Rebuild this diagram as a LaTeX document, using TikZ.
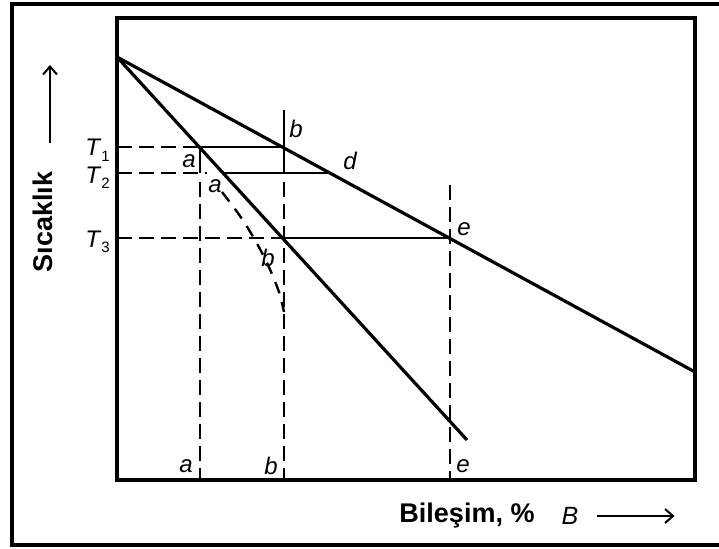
\documentclass[tikz,border=0pt]{standalone}
\usepackage{fontspec}
\setmainfont{Liberation Sans}
\usepackage{tikz}
\usetikzlibrary{arrows.meta}

\newcommand{\tsub}[1]{\textit{T}\raisebox{-0.45ex}{\fontsize{15}{16}\selectfont #1}}

\begin{document}
\begin{tikzpicture}[x=1pt,y=-1pt,>={Straight Barb[length=8pt,width=14pt]},
  frame/.style={line width=3.2pt},
  phase/.style={line width=3.2pt},
  tie/.style={line width=2.4pt},
  guide/.style={line width=2.4pt,dash pattern=on 15pt off 7pt},
  lbl/.style={font=\fontsize{24}{26}\selectfont\itshape,inner sep=1pt},
  tlbl/.style={font=\fontsize{24}{26}\selectfont,inner sep=0pt,anchor=base east},
  axis/.style={font=\fontsize{27}{29}\selectfont\bfseries,inner sep=1pt}]
\useasboundingbox (0,0) rectangle (719,548);
% outer frame, right edge is cut off
\draw[frame] (719,4) -- (12,4) -- (12,545) -- (719,545);
% plot box
\draw[frame] (117,18) rectangle (695,480);
% liquidus and solidus
\coordinate (top) at (117,57);
\coordinate (liq) at (695,372);
\coordinate (sol) at (467,440);
\draw[phase] (top) -- (liq);
\draw[phase] (top) -- (sol);
% points on the tie lines
\coordinate (a1) at (200,147);
\coordinate (b1) at (284,147);
\coordinate (a2) at (223,173);
\coordinate (d2) at (330,173);
\coordinate (b3) at (284,238);
\coordinate (e3) at (450,238);
\draw[tie] (a1) -- (b1);
\draw[tie] (a2) -- (d2);
\draw[tie] (b3) -- (e3);
\draw[guide] (117,147) -- (a1);
\draw[guide] (117,173) -- (207,173);
\draw[guide] (117,238) -- (b3);
% composition verticals
\draw[tie] (a1) -- (200,173);
\draw[guide] (200,182) -- (200,480);
\draw[tie] (284,110) -- (284,173);
\draw[guide] (284,182) -- (284,480);
\draw[guide] (450,185) -- (450,480);
% nonequilibrium solidus
\draw[guide,dash pattern=on 12pt off 9pt] plot[smooth] coordinates {(222,192) (240,216) (255,240) (268,265) (279,292) (284,312)};
% temperatures
\node[tlbl] (t1) at (110,156) {\tsub{1}};
\node[tlbl] (t2) at (110,183) {\tsub{2}};
\node[tlbl] (t3) at (110,247) {\tsub{3}};
% point labels
\node[lbl] (la1) at (189,161) {a};
\node[lbl] (la2) at (215,186) {a};
\node[lbl] (lb1) at (296,129) {b};
\node[lbl] (lb3) at (268,258) {b};
\node[lbl] (ld) at (350,161) {d};
\node[lbl] (le) at (464,229) {e};
\node[lbl] (xa) at (186,466) {a};
\node[lbl] (xb) at (271,466) {b};
\node[lbl] (xe) at (463,466) {e};
% axis titles
\node[axis,rotate=90] (ylab) at (43,222) {Sıcaklık};
\coordinate (yarr) at (50,143);
\draw[->,line width=2pt] (yarr) -- ++(0,-78);
\node[axis] (xlab) at (467,516) {Bileşim, \%};
\node[lbl,font=\fontsize{25}{27}\selectfont\itshape] (xB) at (570,516) {B};
\draw[->,line width=2pt] ([xshift=17pt]xB.east) -- ++(78,0);
\end{tikzpicture}
\end{document}
